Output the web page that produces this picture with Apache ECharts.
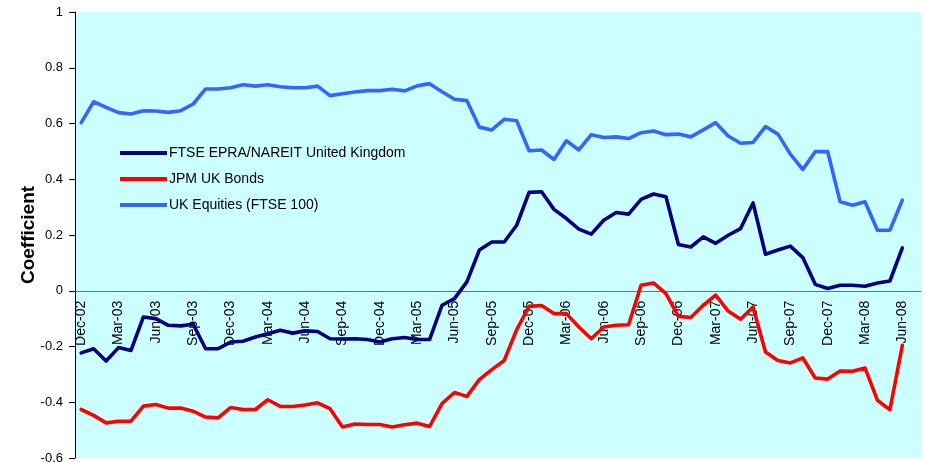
<!DOCTYPE html>
<html>
<head>
<meta charset="utf-8">
<script src="https://cdn.jsdelivr.net/npm/echarts@6/dist/echarts.min.js"></script>
<style>
  html, body { margin: 0; padding: 0; background: #ffffff; }
  #chart { width: 925px; height: 462px; }
</style>
</head>
<body>
<div id="chart"></div>
<script>
// Monthly observations, Dec-02 to Jun-08 (one trailing empty slot after the last month)
const months = [
  'Dec-02','Jan-03','Feb-03','Mar-03','Apr-03','May-03','Jun-03','Jul-03','Aug-03','Sep-03','Oct-03','Nov-03',
  'Dec-03','Jan-04','Feb-04','Mar-04','Apr-04','May-04','Jun-04','Jul-04','Aug-04','Sep-04','Oct-04','Nov-04',
  'Dec-04','Jan-05','Feb-05','Mar-05','Apr-05','May-05','Jun-05','Jul-05','Aug-05','Sep-05','Oct-05','Nov-05',
  'Dec-05','Jan-06','Feb-06','Mar-06','Apr-06','May-06','Jun-06','Jul-06','Aug-06','Sep-06','Oct-06','Nov-06',
  'Dec-06','Jan-07','Feb-07','Mar-07','Apr-07','May-07','Jun-07','Jul-07','Aug-07','Sep-07','Oct-07','Nov-07',
  'Dec-07','Jan-08','Feb-08','Mar-08','Apr-08','May-08','Jun-08','Jul-08'
];

const seriesNames = ['FTSE EPRA/NAREIT United Kingdom', 'JPM UK Bonds', 'UK Equities (FTSE 100)'];

const ftseEpraNareit = [
  -0.223, -0.208, -0.252, -0.204, -0.214, -0.094, -0.100, -0.124, -0.126, -0.120, -0.208, -0.208,
  -0.184, -0.181, -0.166, -0.154, -0.142, -0.152, -0.144, -0.146, -0.172, -0.173, -0.172, -0.175,
  -0.184, -0.172, -0.168, -0.175, -0.175, -0.052, -0.028, 0.032, 0.146, 0.175, 0.175, 0.235,
  0.353, 0.355, 0.292, 0.259, 0.221, 0.203, 0.253, 0.281, 0.275, 0.328, 0.347, 0.337,
  0.166, 0.157, 0.193, 0.170, 0.199, 0.223, 0.315, 0.131, 0.146, 0.160, 0.119, 0.023,
  0.008, 0.020, 0.020, 0.016, 0.028, 0.035, 0.154
];

const jpmUkBonds = [
  -0.426, -0.447, -0.474, -0.468, -0.468, -0.414, -0.408, -0.421, -0.421, -0.432, -0.453, -0.456,
  -0.419, -0.426, -0.426, -0.391, -0.415, -0.415, -0.410, -0.402, -0.423, -0.489, -0.478, -0.480,
  -0.480, -0.489, -0.481, -0.475, -0.487, -0.405, -0.365, -0.379, -0.319, -0.283, -0.250, -0.140,
  -0.056, -0.053, -0.082, -0.082, -0.130, -0.172, -0.130, -0.124, -0.122, 0.020, 0.028, -0.010,
  -0.092, -0.096, -0.052, -0.016, -0.073, -0.102, -0.058, -0.220, -0.250, -0.259, -0.241, -0.313,
  -0.317, -0.288, -0.289, -0.277, -0.393, -0.427, -0.196
];

const ukEquities = [
  0.603, 0.678, 0.658, 0.639, 0.634, 0.646, 0.645, 0.640, 0.646, 0.670, 0.724, 0.724,
  0.728, 0.739, 0.734, 0.739, 0.732, 0.728, 0.728, 0.734, 0.700, 0.707, 0.713, 0.718,
  0.718, 0.723, 0.717, 0.735, 0.743, 0.714, 0.687, 0.682, 0.587, 0.577, 0.615, 0.610,
  0.502, 0.505, 0.471, 0.538, 0.505, 0.560, 0.550, 0.552, 0.546, 0.567, 0.573, 0.560,
  0.562, 0.552, 0.577, 0.603, 0.555, 0.529, 0.532, 0.589, 0.562, 0.490, 0.435, 0.499,
  0.499, 0.319, 0.307, 0.319, 0.217, 0.217, 0.325
];

const yMin = -0.6;
const yMax = 1;
const yStep = 0.2;

const colors = ['#000080', '#FF0000', '#3366FF'];
const FONT = 'Liberation Sans, Arial, sans-serif';

// plot box
const GRID = { left: 75, right: 4, top: 12, bottom: 4 };
const CHART_H = 462;
const plotH = CHART_H - GRID.top - GRID.bottom;
// the category axis (with its labels) sits on the zero line
const zeroShift = plotH * (0 - yMin) / (yMax - yMin);

const chart = echarts.init(document.getElementById('chart'), null, { renderer: 'canvas' });

function lineSeries(name, data, color) {
  return {
    name: name,
    type: 'line',
    data: data,
    symbol: 'none',
    smooth: false,
    lineStyle: { color: color, width: 3.6, join: 'round', cap: 'round' },
    itemStyle: { color: color },
    emphasis: { disabled: true },
    animation: false
  };
}

chart.setOption({
  animation: false,
  grid: {
    left: GRID.left, right: GRID.right, top: GRID.top, bottom: GRID.bottom,
    outerBoundsMode: 'none',
    containLabel: false,
    show: true, backgroundColor: '#CCFFFF', borderWidth: 0
  },
  legend: {
    orient: 'vertical',
    left: 115,
    top: 141,
    itemWidth: 47,
    itemHeight: 4,
    itemGap: 12,
    icon: 'rect',
    textStyle: { fontFamily: FONT, fontSize: 14, color: '#000', padding: [0, 0, 0, -3] },
    data: seriesNames
  },
  xAxis: {
    type: 'category',
    data: months,
    boundaryGap: true,
    position: 'bottom',
    offset: -zeroShift,
    axisLine: { onZero: false, lineStyle: { color: '#6f6f6f', width: 1.2 } },
    axisTick: { show: false },
    axisLabel: {
      interval: 2,
      rotate: 90,
      margin: 10,
      fontFamily: FONT,
      fontSize: 14,
      color: '#000'
    },
    splitLine: { show: false }
  },
  yAxis: {
    type: 'value',
    min: yMin,
    max: yMax,
    interval: yStep,
    name: 'Coefficient',
    nameLocation: 'middle',
    nameRotate: 90,
    nameGap: 37,
    nameMoveOverlap: false,
    nameTextStyle: { fontFamily: FONT, fontSize: 19, fontWeight: 'bold', color: '#000' },
    axisLine: { show: true, lineStyle: { color: '#000', width: 1 } },
    axisTick: { show: true, inside: false, length: 6, lineStyle: { color: '#000' } },
    axisLabel: { margin: 12, fontFamily: FONT, fontSize: 13, color: '#000' },
    splitLine: { show: false }
  },
  series: [
    lineSeries(seriesNames[0], ftseEpraNareit, colors[0]),
    lineSeries(seriesNames[1], jpmUkBonds, colors[1]),
    lineSeries(seriesNames[2], ukEquities, colors[2])
  ]
});
</script>
</body>
</html>
